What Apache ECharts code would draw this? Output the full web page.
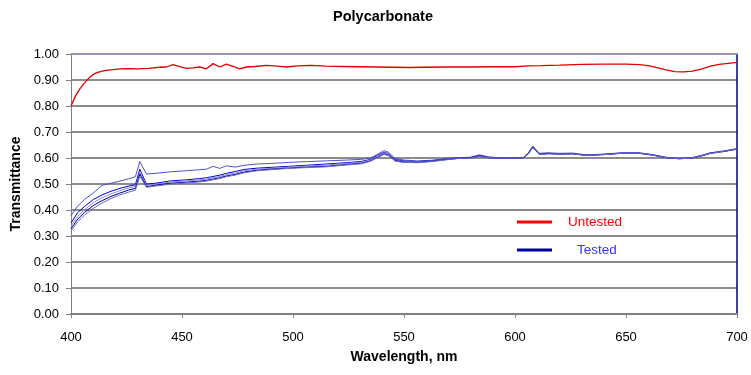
<!DOCTYPE html>
<html>
<head>
<meta charset="utf-8">
<script src="https://cdn.jsdelivr.net/npm/echarts@6/dist/echarts.min.js"></script>
<style>
  html, body { margin: 0; padding: 0; background: #fff; }
  #chart { width: 751px; height: 375px; }
</style>
</head>
<body>
<div id="chart"></div>
<script>
// untested sample (red)
const wlUntested = [400, 402, 404, 406, 408, 410, 412, 415, 418, 422, 426, 430, 435, 440, 443, 446, 449, 452, 455, 458, 461, 464, 467, 470, 473, 476, 479, 483, 488, 493, 497, 502, 508, 515, 522, 530, 538, 545, 552, 560, 570, 580, 590, 600, 606, 612, 620, 630, 640, 650, 656, 660, 664, 668, 672, 676, 680, 684, 688, 692, 696, 700];
const untested = [0.800, 0.838, 0.866, 0.888, 0.907, 0.921, 0.929, 0.936, 0.939, 0.943, 0.944, 0.943, 0.945, 0.949, 0.950, 0.959, 0.951, 0.945, 0.947, 0.950, 0.943, 0.963, 0.950, 0.961, 0.952, 0.943, 0.950, 0.952, 0.956, 0.953, 0.950, 0.954, 0.956, 0.953, 0.952, 0.951, 0.950, 0.949, 0.948, 0.949, 0.950, 0.950, 0.951, 0.951, 0.954, 0.955, 0.957, 0.960, 0.961, 0.961, 0.959, 0.955, 0.948, 0.939, 0.932, 0.931, 0.934, 0.942, 0.953, 0.960, 0.964, 0.968];

// tested samples (blue)
const wlTested = [400, 403, 406, 410, 414, 418, 422, 426, 429, 431, 434, 438, 445, 452, 458, 461, 464, 467, 470, 474, 478, 484, 490, 498, 506, 515, 524, 531, 535, 538, 541, 543, 546, 550, 556, 562, 568, 574, 580, 584, 588, 594, 600, 604, 606, 608, 611, 615, 620, 626, 632, 640, 648, 656, 662, 668, 674, 680, 684, 688, 694, 700];
const tested1 = [0.378, 0.415, 0.440, 0.465, 0.495, 0.503, 0.511, 0.520, 0.528, 0.586, 0.538, 0.541, 0.547, 0.551, 0.555, 0.557, 0.568, 0.560, 0.570, 0.565, 0.572, 0.577, 0.579, 0.583, 0.586, 0.589, 0.592, 0.595, 0.600, 0.614, 0.628, 0.622, 0.598, 0.592, 0.589, 0.591, 0.596, 0.601, 0.603, 0.612, 0.604, 0.601, 0.601, 0.603, 0.620, 0.646, 0.618, 0.620, 0.618, 0.619, 0.612, 0.615, 0.620, 0.620, 0.613, 0.603, 0.599, 0.602, 0.610, 0.620, 0.627, 0.636];
const tested2 = [0.350, 0.390, 0.413, 0.440, 0.458, 0.472, 0.483, 0.492, 0.497, 0.557, 0.499, 0.503, 0.512, 0.516, 0.521, 0.524, 0.529, 0.534, 0.541, 0.548, 0.556, 0.561, 0.564, 0.568, 0.572, 0.577, 0.582, 0.587, 0.595, 0.610, 0.622, 0.617, 0.594, 0.588, 0.586, 0.589, 0.595, 0.600, 0.602, 0.610, 0.603, 0.600, 0.600, 0.602, 0.618, 0.644, 0.616, 0.618, 0.616, 0.617, 0.611, 0.614, 0.619, 0.619, 0.612, 0.602, 0.598, 0.601, 0.609, 0.619, 0.626, 0.635];
const tested3 = [0.338, 0.376, 0.400, 0.428, 0.447, 0.462, 0.474, 0.485, 0.490, 0.544, 0.495, 0.499, 0.508, 0.512, 0.516, 0.519, 0.524, 0.529, 0.536, 0.542, 0.551, 0.557, 0.560, 0.565, 0.569, 0.573, 0.579, 0.584, 0.593, 0.607, 0.620, 0.615, 0.592, 0.586, 0.585, 0.588, 0.594, 0.599, 0.601, 0.608, 0.602, 0.600, 0.600, 0.602, 0.617, 0.643, 0.615, 0.617, 0.616, 0.617, 0.611, 0.614, 0.619, 0.619, 0.612, 0.602, 0.598, 0.601, 0.609, 0.619, 0.626, 0.635];
const tested4 = [0.328, 0.365, 0.390, 0.417, 0.436, 0.452, 0.465, 0.477, 0.483, 0.538, 0.490, 0.495, 0.503, 0.507, 0.511, 0.514, 0.519, 0.524, 0.531, 0.537, 0.546, 0.553, 0.557, 0.561, 0.565, 0.568, 0.575, 0.580, 0.589, 0.603, 0.616, 0.611, 0.590, 0.584, 0.583, 0.587, 0.593, 0.598, 0.601, 0.607, 0.601, 0.599, 0.599, 0.601, 0.616, 0.642, 0.614, 0.617, 0.615, 0.616, 0.610, 0.613, 0.618, 0.618, 0.611, 0.601, 0.597, 0.600, 0.608, 0.618, 0.625, 0.634];
const tested5 = [0.318, 0.355, 0.380, 0.406, 0.427, 0.444, 0.458, 0.469, 0.476, 0.530, 0.487, 0.492, 0.500, 0.504, 0.508, 0.511, 0.516, 0.521, 0.528, 0.534, 0.543, 0.551, 0.555, 0.560, 0.563, 0.566, 0.573, 0.578, 0.588, 0.601, 0.614, 0.609, 0.588, 0.583, 0.582, 0.586, 0.592, 0.598, 0.600, 0.606, 0.601, 0.599, 0.599, 0.601, 0.615, 0.641, 0.613, 0.616, 0.615, 0.616, 0.610, 0.613, 0.618, 0.618, 0.611, 0.601, 0.597, 0.600, 0.608, 0.618, 0.625, 0.634];

const xTicks = [400, 450, 500, 550, 600, 650, 700];

const pairs = (xs, ys) => xs.map((x, i) => [x, ys[i]]);

const FONT = '"Liberation Sans", Arial, sans-serif';

const testedColors = ['#5050c8', '#0000d0', '#8c8ce0', '#000090', '#6a6ad0'];
const testedSets = [tested1, tested2, tested3, tested4, tested5];

const testedSeries = testedSets.map((vals, i) => ({
  name: i === 0 ? 'Tested' : 'Tested ' + (i + 1),
  type: 'line',
  data: pairs(wlTested, vals),
  showSymbol: false,
  color: i === 0 ? '#000099' : testedColors[i],
  lineStyle: { width: 1, color: testedColors[i] },
  z: 3,
}));

const chart = echarts.init(document.getElementById('chart'));
chart.setOption({
  animation: false,
  backgroundColor: '#fff',
  title: {
    text: 'Polycarbonate',
    left: 378,
    textAlign: 'center',
    top: 4,
    textStyle: { fontFamily: FONT, fontSize: 14.5, fontWeight: 'bold', color: '#000' },
  },
  legend: [
    {
      data: [{ name: 'Untested', textStyle: { color: '#ff0000', padding: [0, 0, 0, 11] } }],
      left: 517,
      top: 215,
      padding: 0,
      icon: 'rect',
      itemWidth: 35,
      itemHeight: 3,
      textStyle: { fontFamily: FONT, fontSize: 13.5 },
    },
    {
      data: [{ name: 'Tested', textStyle: { color: '#3333ff', padding: [0, 0, 0, 20] } }],
      left: 517,
      top: 243,
      padding: 0,
      icon: 'rect',
      itemWidth: 35,
      itemHeight: 3,
      textStyle: { fontFamily: FONT, fontSize: 13.5 },
    },
  ],
  grid: { left: 71, right: 14, top: 54, bottom: 61 },
  xAxis: [
    {
      type: 'value',
      min: 400,
      max: 700,
      interval: 50,
      name: 'Wavelength, nm',
      nameLocation: 'middle',
      nameGap: 36,
      nameTextStyle: { fontFamily: FONT, fontSize: 14, fontWeight: 'bold', color: '#000' },
      axisLine: { onZero: false, lineStyle: { color: '#808080', width: 2 } },
      axisTick: { show: true, length: 4, lineStyle: { color: '#808080' } },
      axisLabel: {
        fontFamily: FONT, fontSize: 13, color: '#000', margin: 17,
        formatter: (v) => (xTicks.includes(v) ? String(v) : ''),
      },
      splitLine: { show: false },
    },
    {
      type: 'value',
      position: 'top',
      min: 400,
      max: 700,
      axisLine: { show: true, onZero: false, lineStyle: { color: '#9a9acc', width: 1.5 } },
      axisTick: { show: false },
      axisLabel: { show: false },
      splitLine: { show: false },
    },
  ],
  yAxis: [
    {
      type: 'value',
      min: 0,
      max: 1,
      interval: 0.1,
      name: 'Transmittance',
      nameLocation: 'middle',
      nameGap: 46,
      nameTextStyle: { fontFamily: FONT, fontSize: 14, fontWeight: 'bold', color: '#000' },
      axisLine: { show: true, onZero: false, lineStyle: { color: '#808080', width: 1 } },
      axisTick: { show: true, length: 5, lineStyle: { color: '#808080' } },
      axisLabel: {
        fontFamily: FONT, fontSize: 13, color: '#000', margin: 12,
        formatter: (v) => v.toFixed(2),
      },
      splitLine: { show: true, lineStyle: { color: '#8c8c8c', width: 2 } },
    },
    {
      type: 'value',
      position: 'right',
      min: 0,
      max: 1,
      axisLine: { show: true, onZero: false, lineStyle: { color: '#000080', width: 1.5 } },
      axisTick: { show: false },
      axisLabel: { show: false },
      splitLine: { show: false },
    },
  ],
  series: [
    {
      name: 'Untested',
      type: 'line',
      data: pairs(wlUntested, untested),
      showSymbol: false,
      color: '#ff0000',
      lineStyle: { width: 1.3, color: '#e00000' },
      z: 4,
    },
    ...testedSeries,
  ],
});
</script>
</body>
</html>
